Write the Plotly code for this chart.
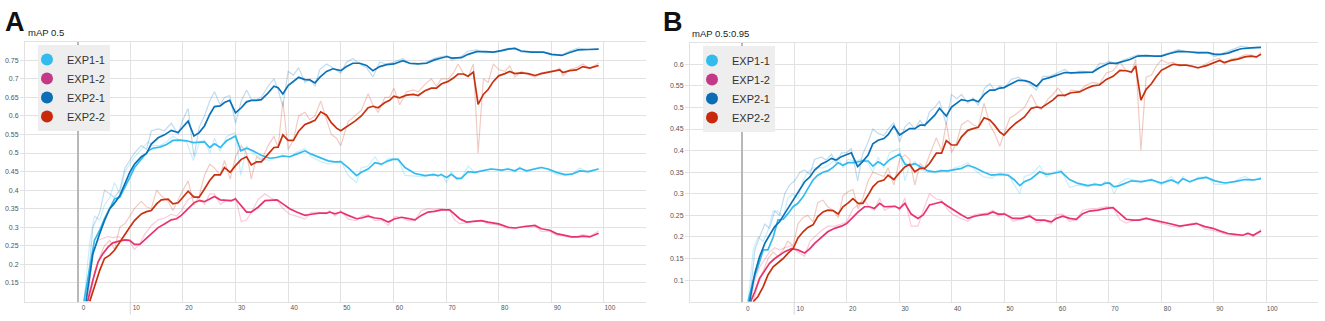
import plotly.graph_objects as go

# ---------------- data ----------------
SERIES = ["EXP1-1", "EXP1-2", "EXP2-1", "EXP2-2"]
LINE_COLORS = {"EXP1-1": "#33bbee", "EXP1-2": "#e8336f", "EXP2-1": "#0a72b8", "EXP2-2": "#c8310f"}
LEGEND_COLORS = {"EXP1-1": "#33bbee", "EXP1-2": "#c23a87", "EXP2-1": "#0a6db5", "EXP2-2": "#c8290c"}

X_TICKS = [0, 10, 20, 30, 40, 50, 60, 70, 80, 90, 100]
A_Y_TICKS = [0.15, 0.2, 0.25, 0.3, 0.35, 0.4, 0.45, 0.5, 0.55, 0.6, 0.65, 0.7, 0.75]
B_Y_TICKS = [0.1, 0.15, 0.2, 0.25, 0.3, 0.35, 0.4, 0.45, 0.5, 0.55, 0.6]

# ----- Panel A : mAP 0.5 -----
A_EXP1_1_X = [1.2, 2.3, 3.2, 4.2, 5.1, 6.1, 7.0, 8.0, 9.0, 9.9,
              10.8, 12.1, 13.4, 14.3, 15.6, 16.9, 18.1, 19.4, 20.7, 22.0,
              23.2, 24.1, 25.1, 26.0, 27.1, 28.3, 29.2, 30.0, 31.0, 32.1,
              33.3, 34.9, 36.5, 37.8, 39.0, 40.3, 41.6, 43.2, 44.4, 46.0,
              47.6, 48.9, 50.0, 51.4, 53.0, 53.9, 55.2, 56.5, 57.7, 59.0,
              59.9, 60.9, 62.2, 64.1, 66.0, 67.6, 68.5, 69.1, 70.1, 71.0,
              72.0, 72.9, 74.2, 75.5, 77.1, 78.6, 80.6, 81.8, 83.1, 84.0,
              85.3, 86.6, 88.1, 89.4, 91.0, 92.6, 93.9, 95.4, 97.0, 99.0]
A_EXP1_1_SMOOTH = [0.100, 0.193, 0.265, 0.292, 0.323, 0.350, 0.376, 0.381, 0.408, 0.434,
                   0.461, 0.483, 0.506, 0.513, 0.516, 0.523, 0.534, 0.535, 0.533, 0.528,
                   0.528, 0.530, 0.515, 0.525, 0.515, 0.533, 0.540, 0.546, 0.506, 0.513,
                   0.506, 0.494, 0.486, 0.488, 0.492, 0.490, 0.497, 0.506, 0.497, 0.488,
                   0.479, 0.476, 0.477, 0.461, 0.439, 0.448, 0.457, 0.474, 0.470, 0.479,
                   0.483, 0.483, 0.461, 0.445, 0.439, 0.442, 0.439, 0.442, 0.434, 0.443,
                   0.432, 0.432, 0.450, 0.448, 0.452, 0.457, 0.454, 0.457, 0.452, 0.459,
                   0.452, 0.457, 0.461, 0.457, 0.448, 0.442, 0.443, 0.452, 0.450, 0.457]
A_EXP1_1_RAW = [0.100, 0.260, 0.330, 0.320, 0.360, 0.380, 0.420, 0.390, 0.450, 0.470,
                0.490, 0.510, 0.530, 0.520, 0.520, 0.530, 0.545, 0.535, 0.530, 0.480,
                0.530, 0.535, 0.500, 0.540, 0.505, 0.545, 0.550, 0.555, 0.440, 0.520,
                0.500, 0.485, 0.480, 0.490, 0.495, 0.488, 0.502, 0.512, 0.490, 0.478,
                0.470, 0.475, 0.478, 0.440, 0.420, 0.460, 0.465, 0.490, 0.465, 0.485,
                0.486, 0.484, 0.440, 0.438, 0.436, 0.445, 0.436, 0.445, 0.420, 0.450,
                0.428, 0.432, 0.465, 0.447, 0.455, 0.458, 0.452, 0.460, 0.448, 0.462,
                0.450, 0.458, 0.463, 0.455, 0.442, 0.440, 0.443, 0.460, 0.448, 0.458]

A_EXP1_2_X = [1.9, 2.9, 3.9, 4.8, 5.8, 6.7, 7.7, 9.0, 9.9, 10.8,
              11.8, 12.7, 14.0, 15.3, 16.5, 17.8, 18.8, 19.7, 21.0, 22.2,
              23.2, 24.1, 25.1, 26.0, 27.1, 28.3, 29.2, 30.0, 31.1, 32.1,
              33.0, 34.3, 35.6, 36.8, 37.9, 39.0, 40.3, 41.6, 43.2, 44.4,
              46.0, 47.3, 47.9, 48.9, 50.0, 51.4, 53.0, 53.9, 55.2, 56.5,
              57.7, 59.0, 60.3, 61.6, 62.8, 64.1, 65.3, 66.6, 67.8, 69.1,
              70.7, 71.6, 72.6, 73.9, 75.5, 76.7, 78.0, 80.0, 81.8, 83.1,
              85.0, 86.9, 88.1, 89.7, 91.0, 92.6, 93.9, 95.1, 96.0, 97.3,
              99.0]
A_EXP1_2_SMOOTH = [0.100, 0.158, 0.207, 0.229, 0.247, 0.258, 0.262, 0.266, 0.265, 0.254,
                   0.254, 0.265, 0.283, 0.299, 0.309, 0.320, 0.323, 0.332, 0.350, 0.367,
                   0.372, 0.369, 0.376, 0.383, 0.374, 0.372, 0.372, 0.376, 0.359, 0.341,
                   0.341, 0.354, 0.372, 0.374, 0.374, 0.363, 0.350, 0.341, 0.332, 0.335,
                   0.338, 0.338, 0.341, 0.336, 0.341, 0.332, 0.323, 0.325, 0.330, 0.325,
                   0.323, 0.314, 0.323, 0.327, 0.323, 0.320, 0.332, 0.341, 0.343, 0.347,
                   0.347, 0.336, 0.323, 0.314, 0.316, 0.318, 0.314, 0.309, 0.300, 0.298,
                   0.302, 0.305, 0.296, 0.292, 0.283, 0.278, 0.274, 0.274, 0.276, 0.274,
                   0.284]
A_EXP1_2_RAW = [0.100, 0.230, 0.265, 0.270, 0.275, 0.272, 0.275, 0.265, 0.262, 0.240,
                0.255, 0.280, 0.305, 0.320, 0.325, 0.335, 0.330, 0.345, 0.375, 0.385,
                0.375, 0.362, 0.390, 0.390, 0.362, 0.372, 0.370, 0.380, 0.315, 0.320,
                0.340, 0.375, 0.390, 0.378, 0.372, 0.350, 0.335, 0.330, 0.322, 0.340,
                0.340, 0.336, 0.345, 0.330, 0.345, 0.322, 0.318, 0.330, 0.334, 0.318,
                0.320, 0.305, 0.330, 0.326, 0.318, 0.318, 0.345, 0.350, 0.348, 0.350,
                0.345, 0.320, 0.310, 0.312, 0.318, 0.318, 0.310, 0.306, 0.296, 0.296,
                0.304, 0.304, 0.288, 0.290, 0.278, 0.276, 0.272, 0.276, 0.280, 0.276,
                0.290]

A_EXP2_1_X = [1.6, 2.9, 4.2, 5.1, 6.1, 7.0, 8.0, 9.0, 9.9, 10.8,
              12.1, 13.1, 14.0, 15.3, 16.5, 17.8, 19.1, 20.0, 21.0, 22.1,
              23.1, 24.1, 25.1, 26.0, 27.1, 27.9, 28.9, 30.0, 31.1, 32.1,
              33.0, 34.0, 34.9, 36.2, 37.3, 38.1, 39.0, 40.0, 41.0, 42.0,
              43.2, 44.1, 45.1, 46.0, 47.3, 48.5, 50.0, 51.1, 52.3, 53.6,
              54.9, 56.1, 57.4, 58.7, 60.1, 61.8, 63.1, 64.7, 66.3, 67.8,
              69.1, 70.2, 71.1, 72.9, 74.2, 75.8, 77.4, 79.0, 80.6, 81.8,
              83.1, 84.3, 86.3, 88.5, 90.1, 92.0, 93.5, 95.1, 97.0, 99.0]
A_EXP2_1_SMOOTH = [0.100, 0.229, 0.283, 0.318, 0.350, 0.365, 0.385, 0.416, 0.448, 0.470,
                   0.490, 0.499, 0.524, 0.541, 0.549, 0.561, 0.555, 0.570, 0.586, 0.546,
                   0.555, 0.573, 0.604, 0.625, 0.627, 0.636, 0.642, 0.608, 0.622, 0.638,
                   0.642, 0.642, 0.644, 0.662, 0.680, 0.676, 0.659, 0.682, 0.692, 0.704,
                   0.698, 0.697, 0.689, 0.704, 0.720, 0.727, 0.722, 0.733, 0.742, 0.742,
                   0.736, 0.722, 0.733, 0.738, 0.740, 0.749, 0.742, 0.740, 0.742, 0.751,
                   0.756, 0.760, 0.756, 0.757, 0.766, 0.773, 0.773, 0.772, 0.776, 0.780,
                   0.782, 0.775, 0.772, 0.772, 0.766, 0.763, 0.771, 0.778, 0.779, 0.780]
A_EXP2_1_RAW = [0.100, 0.300, 0.340, 0.400, 0.390, 0.380, 0.400, 0.460, 0.480, 0.500,
                0.520, 0.510, 0.560, 0.565, 0.560, 0.580, 0.550, 0.590, 0.620, 0.490,
                0.570, 0.600, 0.640, 0.665, 0.630, 0.650, 0.655, 0.580, 0.640, 0.670,
                0.645, 0.645, 0.650, 0.680, 0.700, 0.670, 0.625, 0.720, 0.710, 0.730,
                0.690, 0.700, 0.680, 0.725, 0.740, 0.730, 0.715, 0.745, 0.755, 0.740,
                0.730, 0.705, 0.745, 0.740, 0.745, 0.755, 0.740, 0.740, 0.745, 0.755,
                0.760, 0.762, 0.750, 0.760, 0.775, 0.778, 0.770, 0.772, 0.778, 0.782,
                0.783, 0.772, 0.772, 0.771, 0.764, 0.765, 0.775, 0.783, 0.779, 0.780]

A_EXP2_2_X = [2.3, 3.2, 4.2, 5.1, 6.1, 7.0, 8.0, 9.0, 9.9, 10.8,
              12.1, 13.1, 14.0, 15.0, 15.9, 17.2, 18.1, 19.1, 20.0, 21.0,
              22.1, 23.1, 24.1, 25.1, 26.0, 27.1, 27.9, 29.0, 30.0, 31.1,
              32.1, 33.0, 34.0, 34.9, 36.2, 37.3, 38.1, 39.0, 40.0, 41.0,
              42.0, 43.2, 44.1, 45.1, 46.2, 47.3, 48.2, 49.2, 50.0, 51.4,
              52.7, 53.9, 55.2, 56.1, 57.1, 58.4, 59.3, 60.1, 61.2, 62.5,
              63.8, 64.7, 66.0, 67.2, 68.2, 69.1, 70.4, 71.4, 72.3, 73.3,
              74.2, 75.2, 76.1, 77.1, 78.0, 79.0, 80.0, 81.2, 82.1, 83.1,
              84.3, 85.6, 86.9, 88.1, 89.4, 90.7, 91.6, 92.2, 93.5, 94.8,
              96.0, 97.3, 99.0]
A_EXP2_2_SMOOTH = [0.100, 0.140, 0.184, 0.216, 0.225, 0.238, 0.260, 0.283, 0.300, 0.318,
                   0.336, 0.342, 0.345, 0.363, 0.374, 0.376, 0.363, 0.366, 0.381, 0.397,
                   0.381, 0.381, 0.403, 0.426, 0.441, 0.441, 0.461, 0.448, 0.466, 0.483,
                   0.490, 0.468, 0.476, 0.476, 0.497, 0.515, 0.516, 0.549, 0.534, 0.534,
                   0.559, 0.577, 0.582, 0.588, 0.611, 0.602, 0.582, 0.567, 0.560, 0.573,
                   0.586, 0.600, 0.622, 0.626, 0.622, 0.636, 0.642, 0.653, 0.649, 0.656,
                   0.658, 0.655, 0.668, 0.675, 0.675, 0.686, 0.693, 0.702, 0.713, 0.713,
                   0.707, 0.718, 0.631, 0.658, 0.671, 0.693, 0.708, 0.714, 0.720, 0.714,
                   0.716, 0.714, 0.709, 0.714, 0.717, 0.720, 0.724, 0.717, 0.722, 0.724,
                   0.733, 0.729, 0.736]
A_EXP2_2_RAW = [0.100, 0.180, 0.220, 0.250, 0.265, 0.240, 0.300, 0.310, 0.330, 0.350,
                0.370, 0.355, 0.350, 0.400, 0.385, 0.370, 0.345, 0.375, 0.400, 0.425,
                0.360, 0.385, 0.440, 0.470, 0.460, 0.440, 0.480, 0.430, 0.490, 0.520,
                0.500, 0.430, 0.490, 0.480, 0.520, 0.545, 0.515, 0.640, 0.510, 0.535,
                0.600, 0.610, 0.590, 0.600, 0.640, 0.590, 0.550, 0.540, 0.520, 0.585,
                0.600, 0.615, 0.660, 0.630, 0.610, 0.650, 0.650, 0.675, 0.630, 0.665,
                0.670, 0.665, 0.685, 0.700, 0.680, 0.700, 0.700, 0.715, 0.740, 0.715,
                0.705, 0.740, 0.500, 0.700, 0.690, 0.740, 0.725, 0.720, 0.735, 0.705,
                0.720, 0.712, 0.705, 0.716, 0.720, 0.722, 0.728, 0.708, 0.725, 0.730,
                0.740, 0.728, 0.742]

# ----- Panel B : mAP 0.5:0.95 -----
B_EXP1_1_X = [1.2, 2.2, 3.1, 4.1, 5.0, 6.0, 6.9, 7.9, 8.8, 9.8,
              10.7, 11.7, 12.6, 13.6, 14.5, 15.5, 16.4, 17.4, 18.4, 19.3,
              20.3, 21.5, 22.8, 24.1, 25.0, 26.0, 27.1, 28.2, 29.2, 30.1,
              31.1, 32.0, 33.0, 34.2, 35.5, 36.8, 38.1, 39.3, 40.6, 41.9,
              43.1, 44.4, 46.0, 47.6, 49.2, 50.8, 52.0, 53.0, 53.9, 55.2,
              56.8, 58.1, 59.3, 60.9, 62.5, 64.1, 66.0, 67.3, 68.5, 69.2,
              70.1, 71.0, 72.0, 73.3, 74.3, 76.2, 78.1, 80.0, 81.9, 83.2,
              84.1, 85.4, 87.0, 88.6, 90.2, 92.1, 94.0, 95.9, 97.5, 99.0]
B_EXP1_1_SMOOTH = [0.050, 0.100, 0.131, 0.170, 0.170, 0.200, 0.239, 0.241, 0.254, 0.270,
                   0.278, 0.293, 0.312, 0.332, 0.343, 0.350, 0.353, 0.361, 0.372, 0.366,
                   0.372, 0.372, 0.376, 0.376, 0.364, 0.374, 0.366, 0.379, 0.386, 0.392,
                   0.369, 0.366, 0.370, 0.362, 0.353, 0.351, 0.353, 0.353, 0.356, 0.359,
                   0.366, 0.361, 0.351, 0.343, 0.345, 0.343, 0.332, 0.319, 0.328, 0.335,
                   0.351, 0.345, 0.347, 0.351, 0.333, 0.324, 0.319, 0.322, 0.320, 0.324,
                   0.325, 0.316, 0.319, 0.326, 0.330, 0.328, 0.332, 0.325, 0.332, 0.325,
                   0.335, 0.328, 0.335, 0.338, 0.330, 0.325, 0.328, 0.333, 0.332, 0.335]
B_EXP1_1_RAW = [0.050, 0.170, 0.200, 0.190, 0.215, 0.260, 0.260, 0.245, 0.290, 0.300,
                0.290, 0.330, 0.350, 0.360, 0.360, 0.360, 0.365, 0.375, 0.385, 0.360,
                0.380, 0.375, 0.380, 0.370, 0.350, 0.385, 0.360, 0.395, 0.400, 0.405,
                0.330, 0.365, 0.375, 0.355, 0.350, 0.350, 0.356, 0.350, 0.360, 0.365,
                0.372, 0.355, 0.340, 0.336, 0.348, 0.345, 0.320, 0.300, 0.340, 0.345,
                0.365, 0.338, 0.350, 0.355, 0.315, 0.320, 0.316, 0.325, 0.318, 0.328,
                0.326, 0.300, 0.325, 0.335, 0.334, 0.326, 0.335, 0.320, 0.340, 0.320,
                0.340, 0.325, 0.338, 0.340, 0.322, 0.322, 0.330, 0.340, 0.330, 0.338]

B_EXP1_2_X = [1.7, 2.5, 3.4, 4.4, 5.3, 6.3, 7.2, 8.2, 9.5, 10.7,
              12.0, 13.0, 13.9, 15.2, 16.4, 17.7, 19.0, 20.0, 21.2, 22.2,
              23.4, 24.4, 25.3, 26.3, 27.2, 28.2, 29.2, 30.1, 31.1, 32.3,
              33.6, 34.6, 35.8, 37.1, 38.1, 39.3, 40.6, 41.9, 43.1, 44.4,
              45.7, 46.9, 47.9, 48.9, 50.1, 51.7, 53.3, 54.9, 56.2, 57.7,
              59.0, 60.0, 61.2, 62.5, 63.8, 65.0, 66.3, 67.9, 69.5, 70.8,
              72.1, 73.3, 74.6, 75.8, 77.1, 78.7, 80.6, 81.9, 83.5, 85.1,
              86.7, 88.3, 89.8, 91.1, 92.7, 94.0, 95.5, 96.5, 97.5, 99.0]
B_EXP1_2_SMOOTH = [0.050, 0.073, 0.104, 0.123, 0.139, 0.150, 0.158, 0.166, 0.173, 0.170,
                   0.163, 0.173, 0.185, 0.200, 0.212, 0.220, 0.225, 0.231, 0.247, 0.258,
                   0.270, 0.270, 0.266, 0.278, 0.270, 0.270, 0.271, 0.266, 0.278, 0.253,
                   0.243, 0.251, 0.274, 0.278, 0.281, 0.271, 0.260, 0.251, 0.243, 0.248,
                   0.251, 0.253, 0.258, 0.253, 0.253, 0.243, 0.243, 0.248, 0.239, 0.239,
                   0.235, 0.243, 0.248, 0.243, 0.241, 0.254, 0.260, 0.262, 0.266, 0.268,
                   0.254, 0.241, 0.239, 0.239, 0.243, 0.239, 0.235, 0.230, 0.225, 0.228,
                   0.231, 0.224, 0.220, 0.214, 0.208, 0.206, 0.204, 0.208, 0.204, 0.214]
B_EXP1_2_RAW = [0.050, 0.100, 0.130, 0.150, 0.165, 0.175, 0.170, 0.175, 0.180, 0.165,
                0.155, 0.190, 0.200, 0.215, 0.225, 0.225, 0.230, 0.235, 0.265, 0.275,
                0.285, 0.268, 0.262, 0.290, 0.262, 0.268, 0.272, 0.262, 0.290, 0.225,
                0.225, 0.262, 0.300, 0.288, 0.285, 0.262, 0.250, 0.242, 0.236, 0.252,
                0.255, 0.256, 0.262, 0.248, 0.256, 0.236, 0.242, 0.252, 0.232, 0.238,
                0.230, 0.252, 0.253, 0.236, 0.240, 0.262, 0.265, 0.266, 0.270, 0.268,
                0.240, 0.232, 0.237, 0.240, 0.245, 0.236, 0.230, 0.225, 0.222, 0.230,
                0.233, 0.218, 0.215, 0.210, 0.205, 0.204, 0.204, 0.210, 0.200, 0.218]

B_EXP2_1_X = [1.5, 2.5, 3.4, 4.4, 5.3, 6.3, 7.2, 8.2, 9.1, 10.1,
              11.1, 12.0, 13.0, 13.9, 15.2, 16.1, 17.1, 18.0, 19.0, 20.0,
              20.9, 22.1, 23.0, 24.1, 25.0, 26.0, 27.1, 27.9, 29.0, 30.1,
              31.1, 32.0, 33.0, 34.0, 34.9, 35.8, 36.8, 37.7, 39.0, 40.0,
              41.0, 41.9, 43.1, 44.1, 45.1, 46.3, 47.3, 48.2, 49.2, 50.0,
              51.4, 52.7, 54.0, 54.9, 56.2, 57.4, 58.7, 60.0, 61.6, 62.8,
              64.4, 65.7, 66.9, 68.2, 69.2, 70.1, 71.4, 72.7, 74.0, 75.5,
              77.1, 78.7, 80.0, 81.6, 83.2, 85.1, 87.0, 88.9, 90.2, 91.4,
              92.7, 93.9, 95.2, 97.1, 99.0]
B_EXP2_1_SMOOTH = [0.050, 0.116, 0.154, 0.185, 0.204, 0.224, 0.235, 0.254, 0.274, 0.293,
                   0.312, 0.328, 0.339, 0.355, 0.369, 0.374, 0.382, 0.378, 0.386, 0.390,
                   0.395, 0.363, 0.374, 0.390, 0.416, 0.424, 0.428, 0.437, 0.457, 0.436,
                   0.443, 0.451, 0.451, 0.459, 0.459, 0.470, 0.482, 0.498, 0.480, 0.501,
                   0.509, 0.518, 0.515, 0.518, 0.513, 0.531, 0.540, 0.540, 0.545, 0.546,
                   0.555, 0.563, 0.562, 0.559, 0.549, 0.565, 0.569, 0.575, 0.581, 0.580,
                   0.581, 0.582, 0.582, 0.592, 0.598, 0.603, 0.602, 0.606, 0.611, 0.619,
                   0.620, 0.619, 0.619, 0.625, 0.630, 0.629, 0.627, 0.627, 0.623, 0.623,
                   0.626, 0.631, 0.636, 0.638, 0.639]
B_EXP2_1_RAW = [0.050, 0.170, 0.200, 0.230, 0.220, 0.260, 0.250, 0.300, 0.320, 0.330,
                0.350, 0.355, 0.345, 0.380, 0.385, 0.378, 0.392, 0.370, 0.395, 0.395,
                0.405, 0.330, 0.390, 0.420, 0.450, 0.440, 0.435, 0.450, 0.465, 0.420,
                0.455, 0.465, 0.450, 0.470, 0.455, 0.490, 0.500, 0.515, 0.460, 0.530,
                0.520, 0.530, 0.510, 0.522, 0.505, 0.545, 0.555, 0.540, 0.550, 0.545,
                0.565, 0.570, 0.560, 0.555, 0.540, 0.572, 0.572, 0.580, 0.588, 0.578,
                0.584, 0.583, 0.580, 0.602, 0.602, 0.607, 0.600, 0.610, 0.616, 0.622,
                0.620, 0.618, 0.621, 0.628, 0.634, 0.628, 0.625, 0.627, 0.618, 0.624,
                0.630, 0.636, 0.642, 0.638, 0.640]

B_EXP2_2_X = [2.2, 3.1, 4.1, 5.0, 6.0, 6.9, 7.9, 8.8, 9.8, 10.7,
              11.7, 12.6, 13.6, 14.5, 15.5, 16.4, 17.4, 18.4, 19.3, 20.3,
              21.2, 22.2, 23.1, 24.1, 25.0, 26.0, 27.1, 27.9, 29.0, 30.1,
              31.1, 32.0, 33.0, 34.0, 34.9, 35.8, 37.1, 38.1, 39.0, 40.0,
              41.0, 41.9, 43.1, 44.1, 45.1, 46.2, 47.3, 48.2, 49.2, 50.0,
              51.1, 52.3, 53.9, 55.2, 56.2, 57.1, 58.4, 59.3, 60.3, 61.6,
              62.8, 64.4, 65.7, 66.9, 68.2, 69.5, 70.8, 72.1, 73.3, 74.3,
              75.1, 76.1, 77.1, 78.1, 79.0, 80.0, 81.3, 82.2, 83.5, 84.7,
              85.7, 87.0, 88.6, 89.8, 91.1, 92.0, 93.3, 94.6, 95.9, 97.1,
              98.1, 99.0]
B_EXP2_2_SMOOTH = [0.050, 0.062, 0.085, 0.112, 0.131, 0.140, 0.150, 0.162, 0.173, 0.197,
                   0.212, 0.222, 0.228, 0.247, 0.258, 0.262, 0.261, 0.253, 0.270, 0.279,
                   0.289, 0.278, 0.278, 0.297, 0.316, 0.328, 0.332, 0.343, 0.333, 0.349,
                   0.362, 0.368, 0.351, 0.359, 0.359, 0.370, 0.394, 0.394, 0.423, 0.413,
                   0.413, 0.432, 0.447, 0.451, 0.454, 0.476, 0.471, 0.459, 0.443, 0.436,
                   0.451, 0.464, 0.478, 0.498, 0.501, 0.499, 0.509, 0.517, 0.528, 0.528,
                   0.534, 0.536, 0.544, 0.550, 0.552, 0.565, 0.572, 0.586, 0.585, 0.582,
                   0.596, 0.517, 0.542, 0.555, 0.571, 0.586, 0.594, 0.600, 0.598, 0.598,
                   0.596, 0.592, 0.597, 0.603, 0.609, 0.604, 0.609, 0.612, 0.617, 0.619,
                   0.617, 0.623]
B_EXP2_2_RAW = [0.050, 0.090, 0.120, 0.150, 0.165, 0.155, 0.170, 0.190, 0.180, 0.230,
                0.245, 0.250, 0.235, 0.280, 0.285, 0.270, 0.262, 0.245, 0.295, 0.305,
                0.310, 0.265, 0.290, 0.330, 0.350, 0.345, 0.340, 0.360, 0.320, 0.380,
                0.390, 0.380, 0.320, 0.370, 0.360, 0.390, 0.430, 0.400, 0.465, 0.395,
                0.420, 0.460, 0.470, 0.460, 0.455, 0.510, 0.460, 0.440, 0.410, 0.440,
                0.475, 0.485, 0.500, 0.530, 0.505, 0.495, 0.520, 0.530, 0.545, 0.525,
                0.540, 0.538, 0.552, 0.558, 0.555, 0.580, 0.585, 0.605, 0.585, 0.580,
                0.612, 0.401, 0.570, 0.575, 0.595, 0.610, 0.602, 0.605, 0.596, 0.598,
                0.594, 0.590, 0.602, 0.610, 0.614, 0.600, 0.612, 0.615, 0.622, 0.622,
                0.615, 0.628]

PANELS = [
    {"xaxis": "x", "yaxis": "y", "legend": "legend", "data": {
        "EXP1-1": (A_EXP1_1_X, A_EXP1_1_RAW, A_EXP1_1_SMOOTH),
        "EXP1-2": (A_EXP1_2_X, A_EXP1_2_RAW, A_EXP1_2_SMOOTH),
        "EXP2-1": (A_EXP2_1_X, A_EXP2_1_RAW, A_EXP2_1_SMOOTH),
        "EXP2-2": (A_EXP2_2_X, A_EXP2_2_RAW, A_EXP2_2_SMOOTH)}},
    {"xaxis": "x2", "yaxis": "y2", "legend": "legend2", "data": {
        "EXP1-1": (B_EXP1_1_X, B_EXP1_1_RAW, B_EXP1_1_SMOOTH),
        "EXP1-2": (B_EXP1_2_X, B_EXP1_2_RAW, B_EXP1_2_SMOOTH),
        "EXP2-1": (B_EXP2_1_X, B_EXP2_1_RAW, B_EXP2_1_SMOOTH),
        "EXP2-2": (B_EXP2_2_X, B_EXP2_2_RAW, B_EXP2_2_SMOOTH)}},
]

# ---------------- figure ----------------
W, H = 1325, 321
FONT = "Liberation Sans, Arial, sans-serif"
GRID = "#e2e2e2"

fig = go.Figure()

for p in PANELS:
    # faded raw curves
    for s in SERIES:
        xs, raw, _ = p["data"][s]
        fig.add_trace(go.Scatter(x=xs, y=raw, mode="lines", xaxis=p["xaxis"], yaxis=p["yaxis"],
                                 line=dict(color=LINE_COLORS[s], width=1.2), opacity=0.25,
                                 showlegend=False, hoverinfo="skip"))
    # smoothed curves
    for s in SERIES:
        xs, _, sm = p["data"][s]
        fig.add_trace(go.Scatter(x=xs, y=sm, mode="lines", xaxis=p["xaxis"], yaxis=p["yaxis"],
                                 line=dict(color=LINE_COLORS[s], width=1.7),
                                 showlegend=False, name=s))
    # legend entries
    for s in SERIES:
        fig.add_trace(go.Scatter(x=[None], y=[None], mode="markers", xaxis=p["xaxis"], yaxis=p["yaxis"],
                                 marker=dict(color=LEGEND_COLORS[s], size=12, symbol="circle"),
                                 name=s, legend=p["legend"], showlegend=True))


def xaxis_cfg(domain, rng, anchor):
    return dict(domain=domain, range=rng, anchor=anchor, tickvals=X_TICKS,
                showgrid=True, gridcolor=GRID, gridwidth=1,
                zeroline=True, zerolinecolor="#b8b8b8", zerolinewidth=2,
                showline=True, mirror=True, linecolor=GRID, linewidth=1,
                ticks="", tickfont=dict(size=6.5, color="#555555", family=FONT),
                ticklabelshift=6, ticklabelstandoff=0, fixedrange=True)


def yaxis_cfg(domain, rng, ticks, anchor):
    return dict(domain=domain, range=rng, anchor=anchor, tickvals=ticks,
                showgrid=True, gridcolor=GRID, gridwidth=1, zeroline=False,
                showline=True, linecolor=GRID, linewidth=1,
                ticks="outside", ticklen=4, tickcolor=GRID,
                tickfont=dict(size=7, color="#555555", family=FONT), fixedrange=True)


LEGEND_STYLE = dict(xanchor="left", yanchor="top", bgcolor="#eeeeee", borderwidth=0,
                    font=dict(size=11, color="#333333", family=FONT),
                    itemsizing="trace", tracegroupgap=0, itemwidth=30, indentation=-11)

fig.update_layout(
    width=W, height=H,
    margin=dict(l=0, r=0, t=0, b=0),
    paper_bgcolor="white", plot_bgcolor="white",
    font=dict(family=FONT, color="#333333"),
    xaxis=xaxis_cfg([25 / W, 646 / W], [-10, 108], "y"),
    yaxis=yaxis_cfg([(H - 301.5) / H, (H - 41.7) / H], [0.1, 0.8], A_Y_TICKS, "x"),
    xaxis2=xaxis_cfg([690 / W, 1318 / W], [-9.86, 109.86], "y2"),
    yaxis2=yaxis_cfg([(H - 301.7) / H, (H - 42.7) / H], [0.05, 0.65], B_Y_TICKS, "x2"),
    legend=dict(x=38 / W, y=1 - 45 / H, **LEGEND_STYLE),
    legend2=dict(x=703 / W, y=1 - 46 / H, **LEGEND_STYLE),
    showlegend=True,
)

annotations = [
    dict(text="<b>A</b>", x=3 / W, y=1 - 5 / H, xref="paper", yref="paper", xanchor="left", yanchor="top",
         showarrow=False, font=dict(size=27, color="#111111", family=FONT)),
    dict(text="<b>B</b>", x=661 / W, y=1 - 5 / H, xref="paper", yref="paper", xanchor="left", yanchor="top",
         showarrow=False, font=dict(size=27, color="#111111", family=FONT)),
    dict(text="mAP 0.5", x=26 / W, y=1 - 32 / H, xref="paper", yref="paper", xanchor="left", yanchor="middle",
         showarrow=False, font=dict(size=9.5, color="#222222", family=FONT)),
    dict(text="mAP 0.5:0.95", x=690 / W, y=1 - 33 / H, xref="paper", yref="paper", xanchor="left", yanchor="middle",
         showarrow=False, font=dict(size=9.5, color="#222222", family=FONT)),
]
fig.update_layout(annotations=annotations)

# small marker line below x-axis at epoch 10 (as seen in the reference)
fig.add_shape(type="line", xref="x", yref="y domain", x0=10, x1=10, y0=0, y1=-0.05,
              line=dict(color="#d6d6d6", width=1))
fig.add_shape(type="line", xref="x2", yref="y2 domain", x0=10, x1=10, y0=0, y1=-0.05,
              line=dict(color="#d6d6d6", width=1))

fig.write_html("out.html", config={"displayModeBar": False},
               post_script="document.body.style.margin='0px';")
